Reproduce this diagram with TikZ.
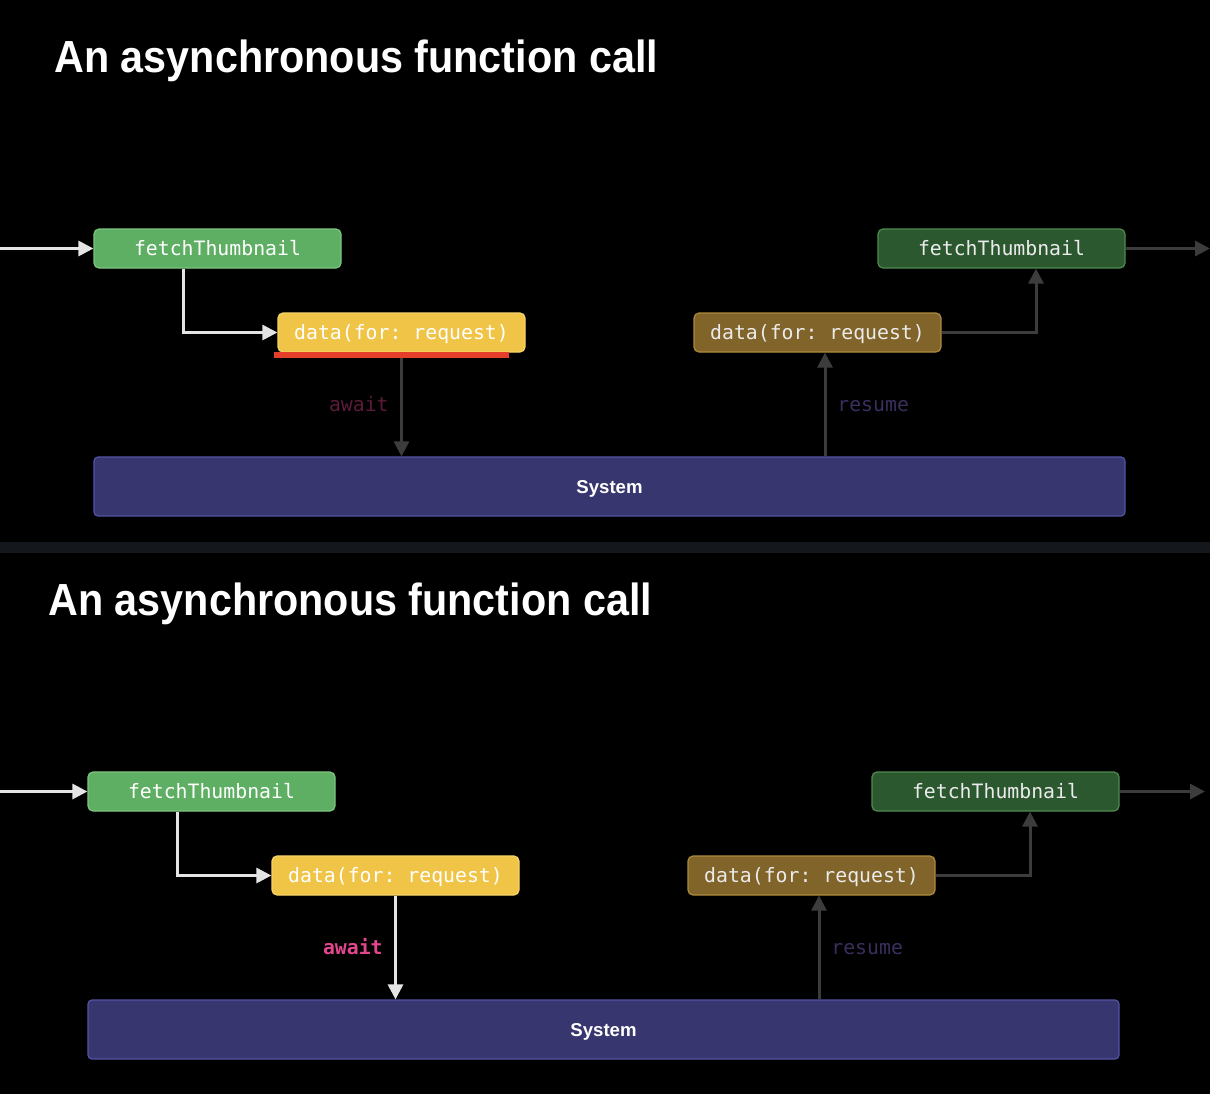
\documentclass[tikz,border=0pt]{standalone}
\usepackage{fontspec}
\setmainfont{Liberation Sans}
\setmonofont{DejaVu Sans Mono}
\usetikzlibrary{arrows.meta,calc}
\definecolor{cgreen}{HTML}{5EAF63}
\definecolor{cgreenb}{HTML}{7CC680}
\definecolor{cdgreen}{HTML}{2C5830}
\definecolor{cdgreenb}{HTML}{4E8C50}
\definecolor{cyellow}{HTML}{F0C446}
\definecolor{cyellowb}{HTML}{F7D46A}
\definecolor{cgold}{HTML}{81642A}
\definecolor{cgoldb}{HTML}{AE8A3C}
\definecolor{csys}{HTML}{38366E}
\definecolor{csysb}{HTML}{5353A6}
\definecolor{cwhite}{HTML}{E4E4E4}
\definecolor{cgray}{HTML}{3C3C3C}
\definecolor{cred}{HTML}{E53E2B}
\definecolor{cawaitdim}{HTML}{5C1B39}
\definecolor{cawait}{HTML}{E2468C}
\definecolor{cresume}{HTML}{3B2E5E}
\definecolor{csep}{HTML}{14171B}
\begin{document}
\begin{tikzpicture}[x=0.5pt,y=-0.5pt,
  box/.style={rounded corners=2.5pt, minimum width=123.5pt, minimum height=19.5pt,
    line width=0.6pt, inner sep=0pt, text height=7.4pt, text depth=0pt,
    font=\ttfamily\fontsize{9.9}{12}\selectfont},
  lightgreen/.style={box, fill=cgreen, draw=cgreenb, text=white},
  darkgreen/.style={box, fill=cdgreen, draw=cdgreenb, text=white!92!black},
  lightyellow/.style={box, fill=cyellow, draw=cyellowb, text=white},
  darkgold/.style={box, fill=cgold, draw=cgoldb, text=white!92!black},
  sysbox/.style={rounded corners=2pt, minimum width=515.5pt, minimum height=29.5pt,
    fill=csys, draw=csysb, line width=0.6pt, text=white, inner sep=0pt,
    text height=6.8pt, text depth=0pt,
    font=\bfseries\fontsize{9.3}{11}\selectfont},
  titletext/.style={text=white, inner sep=0pt, anchor=base west,
    font=\bfseries\fontsize{22.5}{27}\selectfont},
  lbl/.style={inner sep=0pt, font=\ttfamily\fontsize{9.9}{12}\selectfont},
  wconn/.style={draw=cwhite, line width=1.5pt, -{Triangle[length=7.5pt,width=7.5pt]}},
  gconn/.style={draw=cgray, line width=1.5pt, -{Triangle[length=7.5pt,width=7.5pt]}}
]
\useasboundingbox (0,0) rectangle (1210,1094);
\fill[black] (0,0) rectangle (1210,1094);
\fill[csep] (0,542) rectangle (1210,553);

% ---------- top panel ----------
\node[titletext] (t-title) at (54,72) {\scalebox{0.918}[1]{An asynchronous function call}};
\node[lightgreen] (t-f1) at (217.5,248.5) {fetchThumbnail};
\node[lightyellow] (t-d1) at (401.5,332.5) {data(for: request)};
\node[darkgold] (t-d2) at (817.5,332.5) {data(for: request)};
\node[darkgreen] (t-f2) at (1001.5,248.5) {fetchThumbnail};
\node[sysbox] (t-sys) at (609.5,486.5) {System};
\coordinate (t-in) at (0,248.5);
\coordinate (t-out) at (1210,248.5);
\draw[wconn] (t-in) -- (t-f1.west);
\draw[wconn] ([xshift=45pt]t-f1.south west) |- (t-d1.west);
\draw[gconn] (t-d1.south) -- (t-d1.south |- t-sys.north);
\fill[cred] (274,352) rectangle (509,358);
\draw[gconn] ([xshift=3.75pt]t-d2.south |- t-sys.north) -- ([xshift=3.75pt]t-d2.south);
\draw[gconn] (t-d2.east) -| ([xshift=17.25pt]t-f2.south);
\draw[gconn] (t-f2.east) -- (t-out);
\node[lbl, text=cawaitdim, anchor=base east] (t-await) at (389,411) {await};
\node[lbl, text=cresume, anchor=base west] (t-resume) at (837,411) {resume};

% ---------- bottom panel ----------
\begin{scope}[shift={(-6,543)}]
\node[titletext] (b-title) at (54,72) {\scalebox{0.918}[1]{An asynchronous function call}};
\node[lightgreen] (b-f1) at (217.5,248.5) {fetchThumbnail};
\node[lightyellow] (b-d1) at (401.5,332.5) {data(for: request)};
\node[darkgold] (b-d2) at (817.5,332.5) {data(for: request)};
\node[darkgreen] (b-f2) at (1001.5,248.5) {fetchThumbnail};
\node[sysbox] (b-sys) at (609.5,486.5) {System};
\coordinate (b-in) at (6,248.5);
\coordinate (b-out) at (1211,248.5);
\draw[wconn] (b-in) -- (b-f1.west);
\draw[wconn] ([xshift=45pt]b-f1.south west) |- (b-d1.west);
\draw[wconn] (b-d1.south) -- (b-d1.south |- b-sys.north);
\draw[gconn] ([xshift=3.75pt]b-d2.south |- b-sys.north) -- ([xshift=3.75pt]b-d2.south);
\draw[gconn] (b-d2.east) -| ([xshift=17.25pt]b-f2.south);
\draw[gconn] (b-f2.east) -- (b-out);
\node[lbl, text=cawait, anchor=base east, font=\ttfamily\bfseries\fontsize{9.9}{12}\selectfont] (b-await) at (389,411) {await};
\node[lbl, text=cresume, anchor=base west] (b-resume) at (837,411) {resume};
\end{scope}
\end{tikzpicture}
\end{document}
